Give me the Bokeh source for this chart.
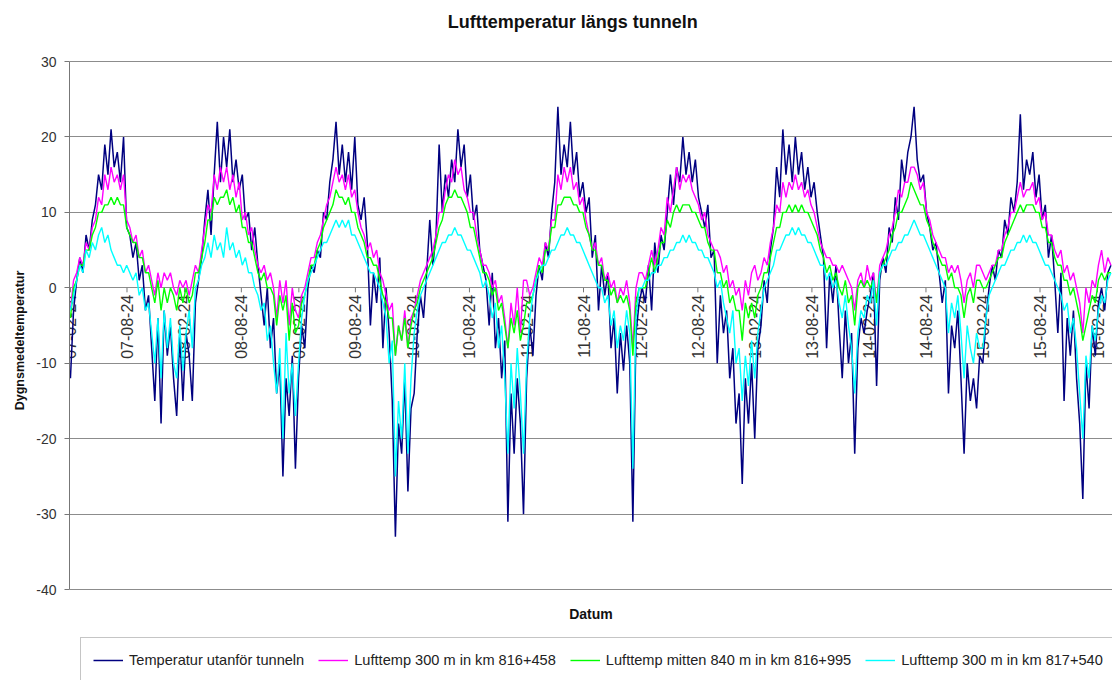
import datetime as dt
import math
from bokeh.plotting import figure
from bokeh.models import Range1d, FixedTicker, Legend, LegendItem, Title
from bokeh.core.properties import value
from bokeh.embed import file_html
from bokeh.resources import INLINE

# ---------------- data (10-day samples from 2007-02-24) ----------------
start_date = dt.datetime(2007, 2, 24)
step_days = 10

outside = (
    [-12, -3, 1, 4, 2, 7, 5, 9, 11, 15, 13, 19, 15, 21, 16, 18, 14, 20, 8, 7, 4, 6, 1, 3, -3, -1, -8, -15, -4, -18, -3, -9, -5, -12, -17, -6, -15]
    + [-6, -9, -15, -2, 1, 4, 9, 13, 7, 15, 22, 14, 20, 16, 21, 14, 17, 13, 15, 9, 10, 5, 8, 3, -1, -5, 0, -8, -4, -14, -10, -25, -12, -17, -9, -24]
    + [-12, -5, -8, 0, 3, 2, 5, 4, 10, 9, 14, 17, 22, 15, 19, 14, 18, 13, 20, 11, 9, 12, 6, -5, 2, -2, 4, -8, 0, -6, -15, -33, -18, -22, -12, -27, -16]
    + [-14, -6, -1, -4, 2, 9, 3, 7, 19, 10, 15, 12, 17, 14, 21, 16, 19, 12, 15, 9, 11, 5, 3, 1, -5, 2, -8, -4, -12, -7, -31, -14, -22, -12, -18, -30]
    + [-12, -5, -9, -1, 3, 1, 6, 4, 10, 14, 24, 15, 19, 16, 22, 15, 18, 12, 14, 10, 12, 4, 7, -3, 3, -1, 2, -8, -4, -14, -6, -11, -5, -10, -31, -6, -2]
    + [0, -2, 3, -3, 6, 2, 7, 5, 10, 15, 11, 16, 14, 20, 15, 18, 14, 17, 12, 10, 8, 11, 4, 5, -10, -1, -6, -3, -12, -8, -18, -14, -26, -12, -18, -10]
    + [-20, -8, -5, 1, -2, 5, 8, 16, 12, 21, 15, 19, 14, 20, 15, 18, 13, 16, 12, 14, 10, 7, 4, -8, 2, -2, 3, -5, -12, -3, -10, -6, -22, -8, -4, -6, -3]
    + [-1, 2, -13, 1, 4, 2, 8, 6, 12, 9, 17, 14, 18, 20, 24, 17, 14, 15, 10, 8, 5, 6, 2, -2, 1, -14, -5, -8, -3, -12, -22, -10, -15, -12, -16, -9]
    + [-10, -4, 0, 3, 1, 5, 4, 9, 7, 12, 10, 14, 23, 13, 17, 15, 18, 12, 15, 9, 11, 4, 7, 1, -6, 2, -15, -4, -9, -3, -12, -18, -28, -10, -16, -5, -9, -2, 0, -3, 2, 3]
)

km816_458 = (
    [-3, 1, 2, 4, 3, 6, 5, 8, 9, 12, 11, 15, 13, 16, 14, 15, 13, 15, 9, 8, 6, 7, 4, 5, 2, 3, 1, -1, 2, 0, 2, 1, 2, 0, -1, 1, 0]
    + [1, -1, 1, 3, 2, 5, 8, 11, 10, 15, 13, 16, 14, 16, 13, 15, 12, 14, 9, 10, 7, 8, 5, 3, 2, 3, 1, 2, 0, -4, 1, -2, 1, -5, 0, -3]
    + [-4, -1, 0, 2, 4, 4, 6, 7, 9, 11, 12, 14, 16, 14, 15, 13, 15, 12, 13, 10, 8, 7, 5, 6, 4, 5, 2, 1, -1, -3, -2, -9, -5, -7, -3, -8, -4]
    + [-3, -1, 1, 2, 3, 4, 5, 7, 10, 10, 13, 15, 14, 17, 15, 16, 13, 12, 10, 10, 7, 5, 3, 3, 2, 0, 1, -2, -1, -4, -8, -2, -5, 0, -6, 1]
    + [1, -1, 0, 2, 4, 3, 6, 5, 9, 9, 15, 13, 16, 14, 16, 13, 14, 11, 12, 9, 7, 5, 6, 3, 4, 1, 2, 0, 1, -2, 0, -1, 1, -2, -8, 0, 2]
    + [2, 1, 3, 5, 3, 5, 8, 7, 12, 10, 13, 16, 13, 15, 14, 15, 13, 12, 11, 9, 10, 7, 6, 5, 5, 4, 2, 3, 0, 1, -1, 0, -3, 1, -1, 2]
    + [3, 1, 2, 4, 3, 6, 8, 11, 10, 14, 12, 14, 13, 15, 13, 14, 12, 13, 11, 10, 8, 6, 5, 4, 4, 3, 3, 2, 3, 2, 1, 0, -3, 1, 2, 0, 3]
    + [1, 2, -2, 3, 4, 5, 7, 8, 10, 13, 12, 14, 14, 16, 16, 15, 13, 14, 10, 9, 7, 6, 5, 4, 4, 2, 3, 2, 3, 1, -2, 1, 2, 0, 3, 3]
    + [2, 1, 2, 3, 3, 5, 5, 7, 8, 10, 10, 12, 14, 12, 13, 13, 14, 11, 12, 9, 10, 7, 7, 5, 4, 5, 2, 3, 1, 2, 0, -2, -6, 0, -2, 1, 0, 3, 5, 2, 4, 3]
)

km816_995 = (
    [-4, 0, 1, 3, 3, 5, 5, 7, 8, 10, 10, 11, 11, 12, 11, 12, 11, 11, 8, 7, 6, 6, 4, 4, 2, 2, 0, -2, 1, -3, 0, -2, 0, -1, -3, 0, -2]
    + [0, -2, -1, 2, 2, 4, 6, 9, 9, 12, 11, 12, 12, 13, 11, 12, 10, 11, 8, 8, 6, 6, 4, 2, 1, 2, 0, 0, -1, -5, -1, -3, -1, -7, -2, -6]
    + [-5, -2, -1, 1, 3, 3, 5, 6, 8, 9, 10, 11, 13, 12, 12, 11, 12, 10, 10, 8, 7, 6, 4, 4, 3, 3, 1, -1, -2, -4, -4, -9, -5, -7, -4, -8, -5]
    + [-3, -2, 0, 1, 2, 3, 4, 6, 8, 9, 11, 12, 12, 13, 12, 12, 11, 10, 8, 8, 6, 4, 2, 2, 1, -1, 0, -3, -2, -5, -8, -4, -6, -3, -7, -5]
    + [-2, -2, -1, 1, 3, 2, 5, 5, 8, 8, 11, 11, 12, 12, 12, 11, 11, 10, 10, 8, 7, 5, 5, 3, 3, 1, 1, -1, 0, -2, -1, -2, -1, -3, -9, -2, 0]
    + [0, 0, 2, 4, 2, 4, 6, 6, 9, 8, 10, 11, 10, 11, 11, 11, 10, 10, 9, 8, 8, 6, 5, 5, 2, 2, 0, 1, -2, -1, -3, -3, -7, -2, -4, -2]
    + [-4, -1, 0, 2, 2, 4, 6, 8, 8, 10, 10, 11, 10, 11, 10, 11, 10, 10, 9, 8, 7, 5, 4, 2, 3, 1, 2, 0, -1, 1, -2, -1, -5, 0, 1, 0, 1]
    + [0, 1, -2, 2, 3, 4, 5, 7, 8, 10, 10, 11, 12, 14, 13, 12, 11, 11, 9, 8, 6, 5, 4, 3, 3, 1, 2, 0, 0, -1, -4, -1, 0, -2, 1, 1]
    + [0, 0, 1, 2, 3, 4, 4, 6, 7, 8, 9, 10, 11, 10, 11, 11, 11, 10, 10, 8, 8, 6, 6, 4, 3, 3, 1, 1, -1, 0, -2, -4, -7, -5, -3, -1, -2, 1, 2, 1, 2, 2]
)

km817_540 = (
    [-3, -1, 1, 3, 2, 5, 4, 6, 5, 7, 8, 6, 7, 5, 4, 3, 3, 2, 3, 2, 1, 2, -1, 0, -3, -2, -6, -10, -4, -12, -3, -8, -4, -10, -12, -5, -11]
    + [-6, -3, -8, 0, 1, 3, 4, 6, 4, 7, 5, 6, 4, 8, 5, 6, 4, 5, 3, 4, 2, 2, 0, -1, -3, -2, -7, -5, -10, -14, -8, -20, -6, -14, -10, -17]
    + [-10, -4, -1, 1, 2, 3, 4, 5, 6, 6, 7, 8, 9, 8, 9, 8, 9, 7, 7, 6, 5, 4, 3, 2, 2, 1, 0, -2, -4, -10, -7, -25, -15, -20, -10, -22, -12]
    + [-6, -3, -1, 0, 1, 2, 3, 4, 5, 6, 6, 7, 7, 8, 7, 7, 6, 5, 5, 4, 3, 2, 0, 1, -1, -4, -2, -8, -5, -12, -22, -10, -16, -8, -14, -22]
    + [-10, -4, -1, 1, 2, 3, 3, 4, 5, 5, 6, 7, 7, 8, 7, 7, 6, 6, 5, 4, 3, 2, 1, 0, 0, -2, -1, -5, -3, -8, -5, -7, -3, -6, -24, -4, 0]
    + [0, 1, 1, 2, 2, 3, 3, 4, 4, 5, 5, 6, 6, 7, 6, 7, 6, 6, 5, 5, 4, 4, 3, 2, 0, 1, -2, -4, -6, -3, -10, -8, -15, -9, -13, -7]
    + [-12, -6, -3, 0, 1, 2, 3, 5, 5, 6, 7, 7, 8, 7, 8, 7, 7, 6, 6, 5, 4, 3, 3, 1, 2, 0, 1, -2, -4, -1, -5, -8, -14, -6, -3, -4, -1]
    + [-2, 1, -5, 2, 3, 3, 4, 5, 5, 6, 6, 7, 7, 8, 9, 8, 7, 7, 6, 5, 4, 3, 2, 1, 0, -6, -2, -4, -1, -6, -12, -5, -8, -10, -6, -8]
    + [-8, -4, -1, 0, 1, 2, 3, 3, 4, 5, 5, 6, 6, 7, 6, 7, 6, 6, 5, 4, 3, 3, 2, 1, 0, -1, -3, -2, -6, -4, -8, -14, -20, -9, -12, -5, -7, -3, -1, -2, 1, 2]
)

series_names = [
    "Temperatur utanför tunneln",
    "Lufttemp 300 m in km 816+458",
    "Lufttemp mitten 840 m in km 816+995",
    "Lufttemp 300 m in km 817+540",
]
series_values = [outside, km816_458, km816_995, km817_540]
series_colors = ["#000080", "#ff00ff", "#00ff00", "#00ffff"]
series_widths = [1.5, 1.4, 1.4, 1.4]

tick_labels = [
    "07-02-24", "07-08-24", "08-02-24", "08-08-24", "09-02-24", "09-08-24",
    "10-02-24", "10-08-24", "11-02-24", "11-08-24", "12-02-24", "12-08-24",
    "13-02-24", "13-08-24", "14-02-24", "14-08-24", "15-02-24", "15-08-24",
    "16-02-24",
]
y_ticks = [-40, -30, -20, -10, 0, 10, 20, 30]

title_text = "Lufttemperatur  längs tunneln"
x_title = "Datum"
y_title = "Dygnsmedeltemperatur"

# ---------------- figure ----------------
FONT = "Liberation Sans"
x_start = dt.datetime(2007, 2, 21)
x_end = dt.datetime(2016, 4, 12)
# the frame covers the whole height; the axis itself runs from -40 to 30
y_low, y_high = -52.06, 38.09

p = figure(
    width=1112, height=680,
    x_axis_type="datetime", x_axis_location=None,
    x_range=Range1d(x_start, x_end),
    y_range=Range1d(y_low, y_high),
    output_backend="svg", toolbar_location=None,
    min_border_left=69, min_border_right=0, min_border_top=0, min_border_bottom=0,
    background_fill_color="white", border_fill_color="white",
    outline_line_color=None,
)

# y axis
p.yaxis.bounds = (y_ticks[0], y_ticks[-1])
p.yaxis.ticker = FixedTicker(ticks=y_ticks)
p.yaxis.major_label_overrides = {t: str(t) for t in y_ticks}
p.yaxis.major_label_text_font = FONT
p.yaxis.major_label_text_font_size = "14px"
p.yaxis.major_label_text_color = "#333333"
p.yaxis.major_label_standoff = 8
p.yaxis.major_tick_out = 5
p.yaxis.major_tick_in = 0
p.yaxis.minor_tick_line_color = None
p.yaxis.axis_line_color = "#777777"
p.yaxis.major_tick_line_color = "#777777"

ytitle = Title(text=y_title, align="center", offset=37,
               text_font=FONT, text_font_size="12.5px", text_font_style="bold",
               text_color="#111111", standoff=13)
p.add_layout(ytitle, "left")

p.xgrid.visible = False
p.ygrid.ticker = FixedTicker(ticks=y_ticks)
p.ygrid.grid_line_color = "#8c8c8c"
p.ygrid.grid_line_width = 1

span = x_end - x_start
# chart title and x-axis title
p.text(x=[x_start + span * 0.485], y=[35.2], text=[title_text],
       text_align="center", text_baseline="middle",
       text_font=value(FONT), text_font_size="18px", text_font_style="bold",
       text_color="#111111")
p.text(x=[x_start + span * 0.5], y=[-43.2], text=[x_title],
       text_align="center", text_baseline="middle",
       text_font=value(FONT), text_font_size="14px", text_font_style="bold",
       text_color="#111111")

# date tick labels on the zero line (drawn below the data)
tick_dates = [dt.datetime.strptime(s, "%y-%m-%d") for s in tick_labels]
p.segment(x0=tick_dates, y0=[0] * len(tick_dates), x1=tick_dates,
          y1=[-0.6] * len(tick_dates), line_color="#777777", line_width=1)
p.text(x=tick_dates, y=[0] * len(tick_dates), text=tick_labels,
       angle=math.pi / 2, text_align="right", text_baseline="middle",
       text_font=value(FONT), text_font_size="16px", text_color="#333333",
       y_offset=7)

# data lines
items = []
for name, vals, col, w in zip(series_names, series_values, series_colors, series_widths):
    xs = [start_date + dt.timedelta(days=step_days * i) for i in range(len(vals))]
    r = p.line(xs, vals, line_color=col, line_width=w)
    items.append(LegendItem(label=name, renderers=[r]))

legend = Legend(
    items=items, orientation="horizontal", location=(11, -3),
    border_line_color="#8c8c8c", border_line_width=1,
    background_fill_color="white", background_fill_alpha=1,
    padding=12, margin=0, spacing=14, glyph_width=30, label_standoff=6,
    label_text_font=FONT, label_text_font_size="14.6px", label_text_color="#222222",
)
p.add_layout(legend, "center")

open("out.html", "w").write(file_html(p, INLINE))
